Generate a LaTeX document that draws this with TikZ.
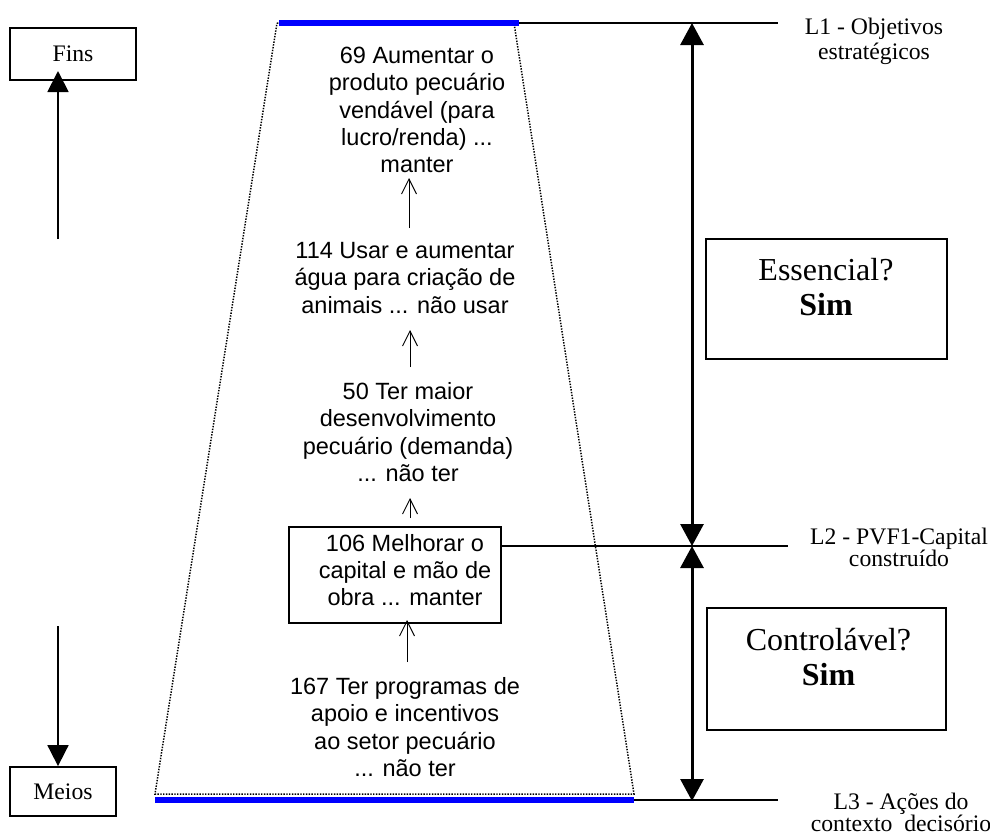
\documentclass[tikz,border=0pt]{standalone}
\usepackage{fontspec}
\setmainfont{Liberation Serif}
\newfontfamily\arialfont{Liberation Sans}
\usetikzlibrary{arrows.meta}
\begin{document}
\begin{tikzpicture}[x=1pt,y=-1pt,
  sidebox/.style={draw,line width=1.8pt,inner sep=0pt},
  boxonly/.style={draw,line width=1.8pt,inner sep=0pt},
  sidetext/.style={font={\fontsize{23.7}{26}\selectfont}},
  levtext/.style={align=center,inner sep=0pt,font={\fontsize{23.7}{22}\selectfont}},
  bigtext/.style={align=center,inner sep=0pt,font={\fontsize{32}{35}\selectfont}},
  arialtext/.style={align=center,inner sep=0pt,font={\arialfont\fontsize{23.5}{27.3}\selectfont}},
  smallarrow/.style={line width=0.9pt,-{Straight Barb[length=15pt,width=15pt,line width=0.9pt]}},
  leftarrow/.style={line width=1.8pt,-{Triangle[length=21pt,width=21pt]}},
  rightarrow/.style={line width=3pt,{Triangle[length=22pt,width=23pt]}-{Triangle[length=22pt,width=23pt]}},
  levline/.style={line width=1.8pt},
  blueline/.style={draw=blue,line width=5.5pt},
  trap/.style={line width=1.5pt,dash pattern=on 1.4pt off 1.4pt}]
\useasboundingbox (0,0) rectangle (990,838);

% trapezoid (dotted)
\coordinate (tl) at (277,23);
\coordinate (tr) at (514,23);
\coordinate (br) at (634,794);
\coordinate (bl) at (155,794);
\draw[trap] (tl) -- (tr) -- (br) -- (bl) -- cycle;

% level lines
\coordinate (l1a) at (279,23);
\coordinate (l1b) at (519,23);
\coordinate (l1c) at (778,23);
\coordinate (l3a) at (155,800);
\coordinate (l3b) at (634,800);
\coordinate (l3c) at (778,800);
\draw[levline] (l1a) -- (l1c);
\draw[levline] (l3b) -- (l3c);
\draw[blueline] (l1a) -- (l1b);
\draw[blueline] (l3a) -- (l3b);

% left boxes and arrows
\node[sidebox,minimum width=126pt,minimum height=52pt] (fins) at (73,54) {};
\node[sidetext] at (fins.center) {Fins};
\node[sidebox,minimum width=106pt,minimum height=49pt] (meios) at (63,791.5) {};
\node[sidetext] at (meios.center) {Meios};
\coordinate (upstart) at (58,239);
\coordinate (uptip) at (58,71);
\coordinate (downstart) at (58,626);
\draw[leftarrow] (upstart) -- (uptip);
\draw[leftarrow] (downstart) -- (meios.north -| downstart);

% chain of concepts
\node[arialtext] (t69) at (417,110) {69 Aumentar o\\produto pecuário\\vendável (para\\lucro/renda) ...\\manter};
\node[arialtext] (t114) at (405,278) {114 Usar e aumentar\\água para criação de\\animais ... não usar};
\node[arialtext] (t50) at (408,432) {50 Ter maior\\desenvolvimento\\pecuário (demanda)\\... não ter};
\node[boxonly,line width=1.3pt,minimum width=212pt,minimum height=96pt] (b106) at (395,575) {};
\node[arialtext] (t106) at (405,570) {106 Melhorar o\\capital e mão de\\obra ... manter};
\node[arialtext] (t167) at (405,727) {167 Ter programas de\\apoio e incentivos\\ao setor pecuário\\... não ter};

\coordinate (a1s) at (409,228); \coordinate (a1e) at (409,178);
\coordinate (a2s) at (410,367); \coordinate (a2e) at (410,330);
\coordinate (a3s) at (410,518); \coordinate (a3e) at (410,498);
\coordinate (a4s) at (407,662); \coordinate (a4e) at (407,620);
\draw[smallarrow] (a1s) -- (a1e);
\draw[smallarrow] (a2s) -- (a2e);
\draw[smallarrow] (a3s) -- (a3e);
\draw[smallarrow] (a4s) -- (a4e);

% L2 line
\coordinate (l2c) at (788,546);
\draw[levline] (b106.east |- l2c) -- (l2c);

% right double arrows
\coordinate (r1) at (692,23);
\coordinate (r2) at (692,546);
\coordinate (r3) at (692,801);
\draw[rightarrow] (r2) -- (r1);
\draw[rightarrow] (r2) -- (r3);

% level labels
\node[levtext,font={\fontsize{23.7}{25}\selectfont}] (lab1) at (874,41) {L1 - Objetivos\\estratégicos};
\node[levtext] (lab2) at (899,547) {L2 - PVF1-Capital\\construído};
\node[levtext] (lab3) at (901,812) {L3 - Ações do\\contexto~ decisório};

% right boxes
\node[boxonly,minimum width=241pt,minimum height=120pt] (ess) at (826.5,299) {};
\node[bigtext] at (826,287) {Essencial?\\\textbf{Sim}};
\node[boxonly,minimum width=239pt,minimum height=122pt] (ctl) at (826.5,669) {};
\node[bigtext] at (828.5,657) {Controlável?\\\textbf{Sim}};
\end{tikzpicture}
\end{document}
